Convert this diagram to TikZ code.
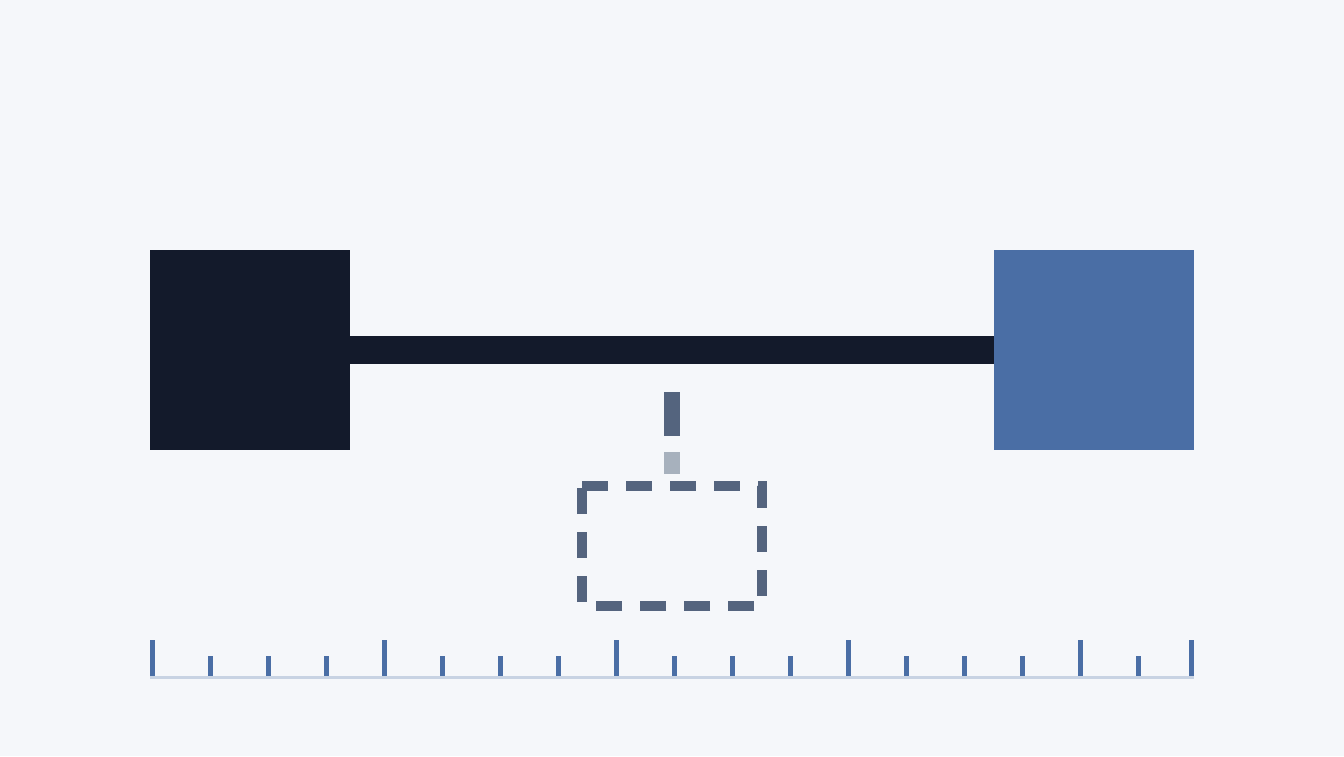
\documentclass[tikz,border=0pt]{standalone}
\begin{document}
\begin{tikzpicture}[x=0.75pt,y=-0.75pt,
  sq/.style={draw=none,minimum width=150pt,minimum height=150pt,inner sep=0pt,outer sep=0pt,anchor=north west},
  dashbox/.style={draw=slate,line width=7.5pt,dash pattern=on 19.5pt off 13.5pt,miter limit=10,line join=miter}]
\definecolor{bg}{HTML}{F5F7FA}
\definecolor{inkdark}{HTML}{131A2B}
\definecolor{blueA}{HTML}{4A6EA5}
\definecolor{slate}{HTML}{54647E}
\definecolor{slatelight}{HTML}{A7B1BD}
\definecolor{tickblue}{HTML}{4A6EA5}
\definecolor{rulerline}{HTML}{C8D3E3}
\fill[bg] (0,0) rectangle (1344,756);
\useasboundingbox (0,0) rectangle (1344,756);
% squares
\node[sq,fill=inkdark] (left) at (150,250) {};
\node[sq,fill=blueA] (right) at (994,250) {};
% bar
\fill[inkdark] (left.east |- 0,336) rectangle (right.west |- 0,364);
% vertical stem
\coordinate (s1) at (672,392);
\coordinate (s2) at (672,436);
\coordinate (s3) at (672,452);
\coordinate (s4) at (672,474);
\draw[slate,line width=12pt] (s1) -- (s2);
\draw[slatelight,line width=12pt] (s3) -- (s4);
% dashed box
\coordinate (b1) at (582,486);
\coordinate (b2) at (762,486);
\coordinate (b3) at (762,606);
\coordinate (b4) at (582,606);
\draw[dashbox] (b1) -- (b2) -- (b3) -- (b4) -- cycle;
% ruler
\fill[rulerline] (150,676) rectangle (1194,679);
\foreach \k in {0,...,17}{
  \pgfmathsetmacro{\xx}{150+58*\k}
  \pgfmathtruncatemacro{\mm}{mod(\k,4)}
  \ifnum\mm=0
    \fill[tickblue] (\xx,640) rectangle (\xx+5,676);
  \else
    \fill[tickblue] (\xx,656) rectangle (\xx+5,676);
  \fi
}
\fill[tickblue] (1189,640) rectangle (1194,676);
\end{tikzpicture}
\end{document}
